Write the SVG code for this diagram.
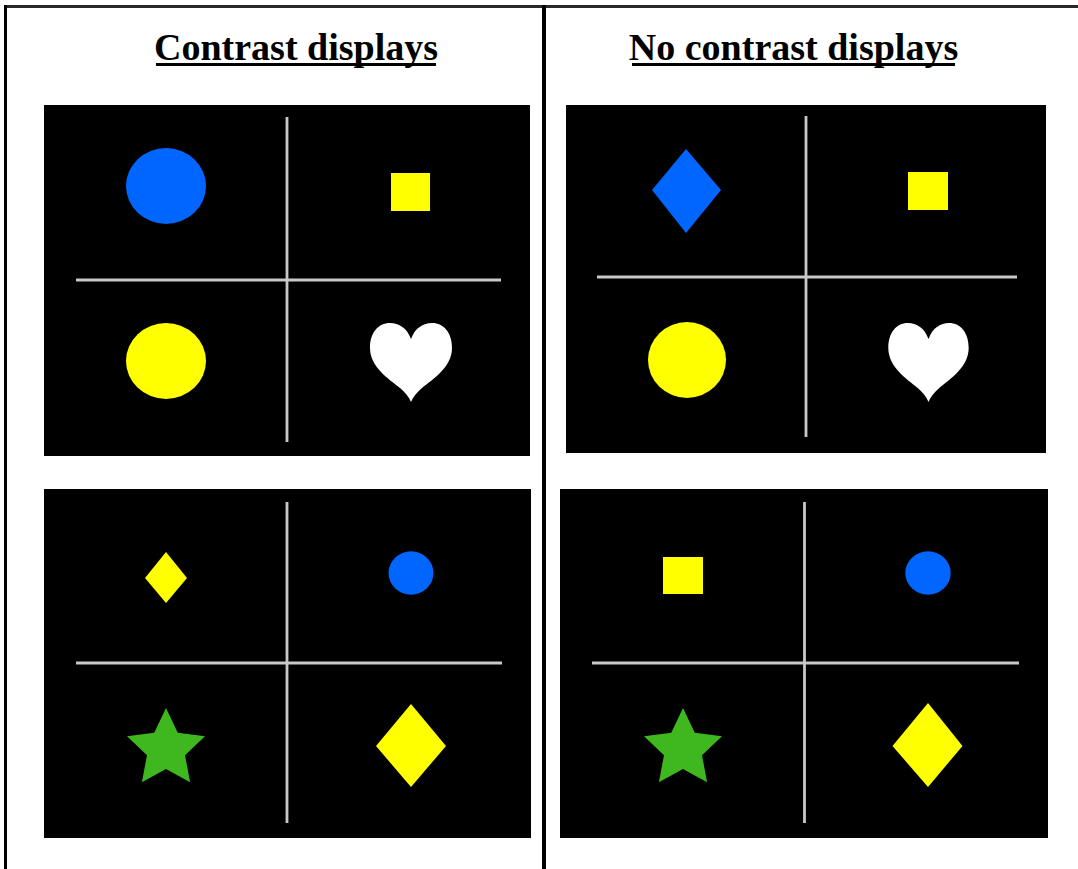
<svg xmlns="http://www.w3.org/2000/svg" width="1078" height="869" viewBox="0 0 1078 869">
  <style>
    .title { font-family: "Liberation Serif", "Times New Roman", serif; font-weight: bold; font-size: 38px; fill: #000; }
    .rule { fill: #000; }
    .panel { fill: #000; }
    .grid { stroke: #c8c8c8; stroke-width: 2.8; fill: none; }
    .blue { fill: #0066ff; }
    .yellow { fill: #ffff00; }
    .green { fill: #3fb71f; }
    .white { fill: #ffffff; }
  </style>
  <defs>
    <!-- five-pointed star, centred on the origin -->
    <path id="star" d="M0,-41 L11.76,-16.18 L38.99,-12.67 L19.02,6.18 L24.1,33.17 L0,20 L-24.1,33.17 L-19.02,6.18 L-38.99,-12.67 L-11.76,-16.18 Z"/>
    <!-- heart, origin at top centre -->
    <path id="heart" d="M0,16 C-4,5 -12,0 -21,0 C-33,0 -41,10 -41,25 C-41,44 -22,56 -11,65 C-6,69 -2,74 0,79 C2,74 6,69 11,65 C22,56 41,44 41,25 C41,10 33,0 21,0 C12,0 4,5 0,16 Z"/>
  </defs>

  <rect width="1078" height="869" fill="#ffffff"/>

  <!-- table frame -->
  <g id="frame">
    <rect x="4" y="5" width="1074" height="3" fill="#2a2a2a"/>
    <rect x="4" y="5" width="3" height="864" class="rule"/>
    <rect x="542" y="5" width="4" height="864" class="rule"/>
  </g>

  <!-- column headings -->
  <g id="heading-contrast">
    <text class="title" x="296" y="59.5" text-anchor="middle">Contrast displays</text>
    <rect x="156" y="63" width="280" height="3" class="rule"/>
  </g>
  <g id="heading-no-contrast">
    <text class="title" x="793.5" y="59.5" text-anchor="middle">No contrast displays</text>
    <rect x="632" y="63" width="323" height="3" class="rule"/>
  </g>

  <!-- contrast display 1 -->
  <g id="panel-contrast-1">
    <rect class="panel" x="44" y="105" width="486" height="351"/>
    <line class="grid" x1="287" y1="117" x2="287" y2="442"/>
    <line class="grid" x1="76" y1="280" x2="501" y2="280"/>
    <ellipse class="blue" cx="166" cy="186" rx="40" ry="38"/>
    <rect class="yellow" x="391" y="173" width="39" height="38"/>
    <ellipse class="yellow" cx="166" cy="361" rx="40" ry="38"/>
    <use href="#heart" class="white" transform="translate(411,323)"/>
  </g>

  <!-- no-contrast display 1 -->
  <g id="panel-nocontrast-1">
    <rect class="panel" x="566" y="105" width="480" height="348"/>
    <line class="grid" x1="806" y1="116" x2="806" y2="437"/>
    <line class="grid" x1="597" y1="277" x2="1017" y2="277"/>
    <polygon class="blue" points="686,149 721,190 686,233 652,190"/>
    <rect class="yellow" x="908" y="172" width="40" height="38"/>
    <ellipse class="yellow" cx="687" cy="360" rx="39" ry="38"/>
    <use href="#heart" class="white" transform="translate(928.5,323) scale(0.98,1)"/>
  </g>

  <!-- contrast display 2 -->
  <g id="panel-contrast-2">
    <rect class="panel" x="44" y="489" width="487" height="349"/>
    <line class="grid" x1="287" y1="502" x2="287" y2="823"/>
    <line class="grid" x1="76" y1="663" x2="502" y2="663"/>
    <polygon class="yellow" points="166,552 187,578 166,603 145,578"/>
    <ellipse class="blue" cx="411" cy="573" rx="22.5" ry="21.7"/>
    <use href="#star" class="green" transform="translate(166,749)"/>
    <polygon class="yellow" points="411,704 446,746 411,787 376,746"/>
  </g>

  <!-- no-contrast display 2 -->
  <g id="panel-nocontrast-2">
    <rect class="panel" x="560" y="489" width="488" height="349"/>
    <line class="grid" x1="804.5" y1="502" x2="804.5" y2="823"/>
    <line class="grid" x1="592" y1="663" x2="1019" y2="663"/>
    <rect class="yellow" x="663" y="557" width="40" height="37"/>
    <ellipse class="blue" cx="928" cy="573" rx="22.7" ry="21.7"/>
    <use href="#star" class="green" transform="translate(683,749)"/>
    <polygon class="yellow" points="928,703 962.5,746 928,787 892.5,746"/>
  </g>
</svg>
